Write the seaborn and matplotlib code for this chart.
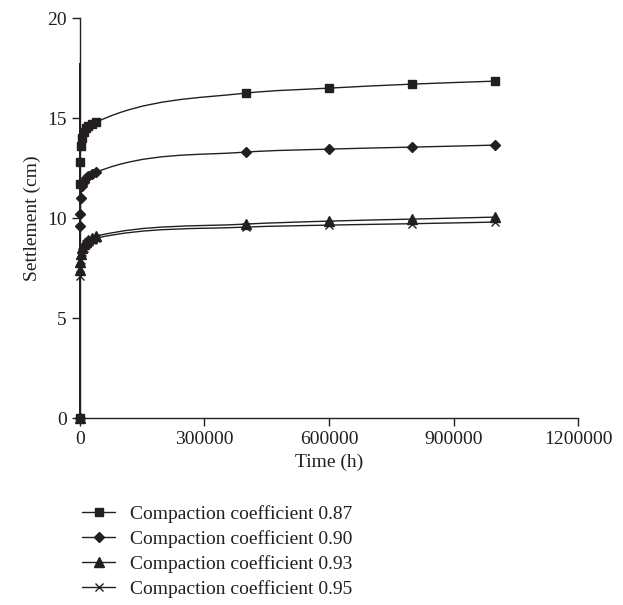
# Settlement vs time for four compaction coefficients
import matplotlib
matplotlib.use('Agg')
import matplotlib.pyplot as plt
import seaborn as sns
from matplotlib.path import Path
from matplotlib.patches import PathPatch
from matplotlib.lines import Line2D

time_h = [0, 100, 500, 1000, 3000, 5000, 10000, 15000, 20000, 30000, 40000,
          400000, 600000, 800000, 1000000]

settle_087 = [0, 17.3, 11.7, 12.8, 13.6, 14.0, 14.3, 14.5, 14.6, 14.7, 14.8,
              16.25, 16.5, 16.7, 16.85]
settle_090 = [0, 9.6, 9.6, 10.2, 11.0, 11.6, 11.8, 12.0, 12.1, 12.2, 12.3,
              13.3, 13.45, 13.55, 13.65]
settle_093 = [0, 7.4, 7.4, 7.8, 8.2, 8.5, 8.7, 8.8, 8.9, 9.0, 9.1,
              9.7, 9.85, 9.95, 10.05]
settle_095 = [0, 7.1, 7.1, 7.5, 7.9, 8.3, 8.5, 8.7, 8.8, 8.9, 9.0,
              9.55, 9.65, 9.72, 9.8]

labels = ['Compaction coefficient 0.87', 'Compaction coefficient 0.90',
          'Compaction coefficient 0.93', 'Compaction coefficient 0.95']

sns.set_style('ticks')
plt.rcParams['font.family'] = ['Liberation Serif', 'DejaVu Serif']
ink = '#231f20'


def smooth_line(ax, xs, ys):
    # smoothed curve as cubic bezier segments (hermite, 3-point slopes,
    # clamped so the curve does not overshoot)
    n = len(xs)
    sec = [(ys[i + 1] - ys[i]) / (xs[i + 1] - xs[i]) for i in range(n - 1)]
    slope = [sec[0]]
    for i in range(1, n - 1):
        h0, h1 = xs[i] - xs[i - 1], xs[i + 1] - xs[i]
        slope.append((h1 * sec[i - 1] + h0 * sec[i]) / (h0 + h1))
    slope.append(sec[-1])
    for i in range(n - 1):
        lim = 3 * abs(sec[i])
        slope[i] = max(-lim, min(lim, slope[i]))
        slope[i + 1] = max(-lim, min(lim, slope[i + 1]))
    verts = [(xs[0], ys[0])]
    codes = [Path.MOVETO]
    for i in range(n - 1):
        h = (xs[i + 1] - xs[i]) / 3
        verts += [(xs[i] + h, ys[i] + slope[i] * h),
                  (xs[i + 1] - h, ys[i + 1] - slope[i + 1] * h),
                  (xs[i + 1], ys[i + 1])]
        codes += [Path.CURVE4] * 3
    ax.add_patch(PathPatch(Path(verts, codes), fill=False, edgecolor=ink,
                           linewidth=1.0, clip_on=False))


fig = plt.figure(figsize=(6.23, 6.05), dpi=100)
ax = fig.add_axes([0.128, 0.309, 0.8, 0.661])

marked = [0] + list(range(2, len(time_h)))  # spike point has no marker
series = [
    (settle_087, 's', 6.0),
    (settle_090, 'D', 5.5),
    (settle_093, '^', 6.5),
    (settle_095, 'x', 5.5),
]
handles = []
for (vals, mk, ms), lab in zip(series, labels):
    smooth_line(ax, time_h, vals)
    sns.lineplot(x=time_h, y=vals, ax=ax, estimator=None, sort=False,
                 color=ink, linestyle='none', marker=mk, markersize=ms,
                 markeredgecolor=ink, markerfacecolor=ink, markeredgewidth=1.0,
                 markevery=marked, clip_on=False, zorder=3)
    handles.append(Line2D([], [], color=ink, linewidth=1.0, marker=mk,
                          markersize=ms, markeredgecolor=ink,
                          markerfacecolor=ink, label=lab))

ax.set_xlim(0, 1200000)
ax.set_ylim(0, 20)
ax.set_xticks([0, 300000, 600000, 900000, 1200000])
ax.set_xticklabels(['0', '300000', '600000', '900000', '1200000'])
ax.set_yticks([0, 5, 10, 15, 20])
ax.set_xlabel('Time (h)', fontsize=14, color=ink)
ax.set_ylabel('Settlement (cm)', fontsize=14, color=ink)
ax.tick_params(labelsize=14, colors=ink, length=6, width=1.0, direction='out')
for side in ['top', 'right']:
    ax.spines[side].set_visible(False)
for side in ['left', 'bottom']:
    ax.spines[side].set_color(ink)
    ax.spines[side].set_linewidth(1.0)

fig.legend(handles=handles, loc='upper left', bbox_to_anchor=(0.132, 0.165),
           frameon=False, fontsize=14, handlelength=1.7, handletextpad=0.75,
           labelspacing=0.36, borderpad=0, borderaxespad=0, labelcolor=ink)

fig.savefig('out.png', dpi=100)
